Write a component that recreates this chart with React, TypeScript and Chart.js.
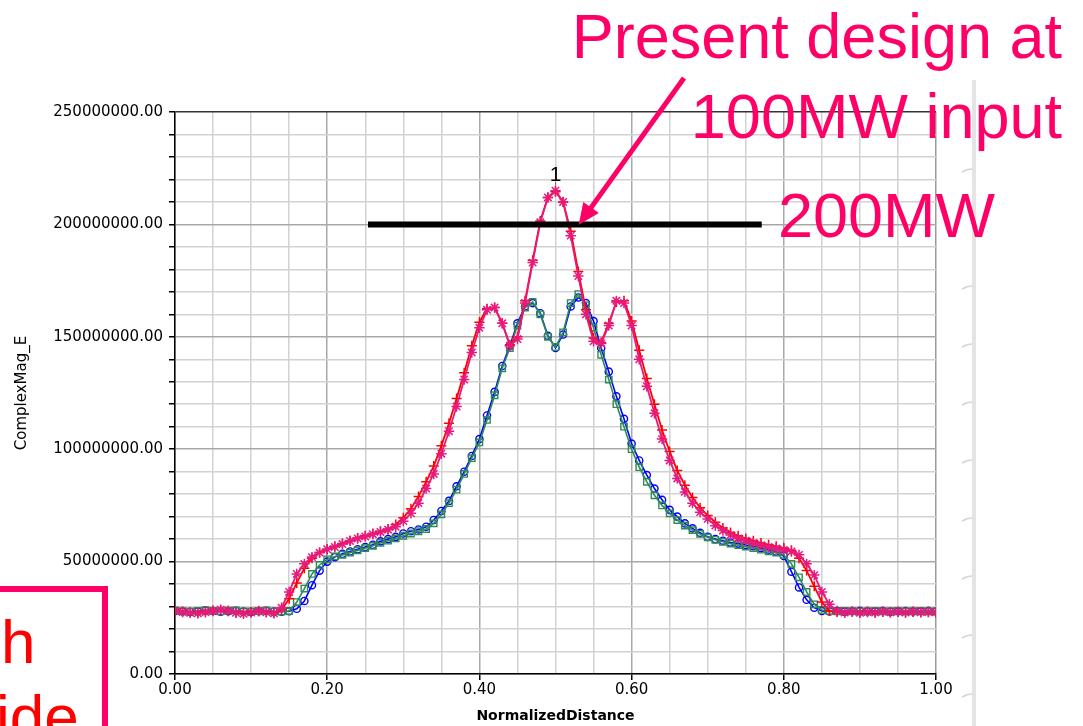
import React, { useEffect, useRef } from "react";
import { Chart, registerables } from "chart.js";

Chart.register(...registerables);

// Normalized distance samples
const xs = [
  0.0, 0.01, 0.02, 0.03, 0.04, 0.05, 0.06, 0.07, 0.08, 0.09,
  0.1, 0.11, 0.12, 0.13, 0.14, 0.15, 0.16, 0.17, 0.18, 0.19,
  0.2, 0.21, 0.22, 0.23, 0.24, 0.25, 0.26, 0.27, 0.28, 0.29,
  0.3, 0.31, 0.32, 0.33, 0.34, 0.35, 0.36, 0.37, 0.38, 0.39,
  0.4, 0.41, 0.42, 0.43, 0.44, 0.45, 0.46, 0.47, 0.48, 0.49,
  0.5, 0.51, 0.52, 0.53, 0.54, 0.55, 0.56, 0.57, 0.58, 0.59,
  0.6, 0.61, 0.62, 0.63, 0.64, 0.65, 0.66, 0.67, 0.68, 0.69,
  0.7, 0.71, 0.72, 0.73, 0.74, 0.75, 0.76, 0.77, 0.78, 0.79,
  0.8, 0.81, 0.82, 0.83, 0.84, 0.85, 0.86, 0.87, 0.88, 0.89,
  0.9, 0.91, 0.92, 0.93, 0.94, 0.95, 0.96, 0.97, 0.98, 0.99,
  1.0,
];

// ComplexMag_E, in millions
const magentaStar = [
  28.0, 27.6, 27.2, 27.0, 27.5, 28.0, 28.6, 28.2, 27.2, 26.8,
  27.3, 28.0, 27.4, 27.0, 29.5, 36.5, 44.5, 49.0, 52.0, 54.0,
  55.5, 56.5, 57.8, 59.2, 60.3, 61.2, 62.2, 63.2, 64.2, 65.5,
  68.0, 71.5, 76.0, 82.5, 89.0, 98.0, 108.0, 119.0, 131.0, 143.0,
  154.0, 162.0, 163.0, 156.0, 146.0, 149.0, 165.0, 183.0, 201.0, 212.0,
  215.0, 210.0, 195.0, 177.0, 160.0, 148.0, 147.0, 155.0, 166.0, 165.0,
  155.0, 140.0, 128.0, 116.0, 104.5, 95.0, 87.0, 81.0, 76.0, 72.0,
  69.0, 66.0, 63.8, 61.8, 60.3, 59.3, 58.3, 57.3, 56.5, 55.8,
  55.2, 54.5, 53.0, 49.0, 44.0, 36.5, 31.0, 28.0, 27.3, 27.8,
  27.2, 27.6, 27.3, 27.8, 27.4, 27.7, 27.3, 27.8, 27.5, 27.6,
  27.5,
];

const redPlus = [
  28.2, 27.8, 27.5, 27.3, 27.8, 28.3, 28.4, 27.9, 27.4, 27.1,
  27.6, 27.9, 27.6, 27.3, 28.5, 33.5, 40.5, 47.0, 51.5, 54.0,
  55.5, 56.8, 58.0, 59.3, 60.5, 61.5, 62.5, 63.5, 64.5, 66.5,
  69.5, 73.5, 79.0, 85.5, 92.5, 101.5, 111.5, 122.5, 134.0, 146.0,
  156.5, 162.5, 163.0, 156.0, 146.5, 150.0, 166.0, 184.0, 201.5, 212.0,
  214.5, 210.0, 197.0, 179.0, 162.0, 149.5, 147.5, 156.0, 165.5, 166.0,
  157.0, 144.0, 131.5, 120.0, 108.5, 99.0, 90.5, 84.0, 78.5, 74.0,
  70.5, 67.5, 65.0, 63.0, 61.5, 60.3, 59.3, 58.3, 57.5, 56.8,
  56.0, 55.0, 51.5, 46.0, 39.0, 32.0, 28.0, 27.6, 27.4, 27.7,
  27.5, 27.8, 27.4, 27.6, 27.5, 27.7, 27.4, 27.6, 27.5, 27.7,
  27.5,
];

const blueCircle = [
  28.0, 27.8, 27.6, 27.9, 28.2, 28.0, 27.7, 27.9, 28.1, 27.8,
  27.6, 27.9, 28.1, 27.8, 27.7, 27.9, 29.0, 32.5, 39.5, 46.0,
  50.0, 52.0, 53.5, 54.5, 55.5, 56.5, 57.5, 59.0, 60.0, 61.0,
  62.5, 63.5, 64.3, 65.5, 68.5, 72.5, 77.0, 83.5, 90.0, 97.0,
  104.5, 115.0, 125.5, 137.0, 146.0, 156.0, 163.5, 165.0, 160.5, 150.5,
  145.0, 151.0, 163.5, 167.5, 165.0, 157.0, 145.0, 134.5, 123.5, 113.5,
  102.5, 95.0, 88.5, 82.5, 77.5, 73.0, 70.0, 67.0, 64.8, 62.8,
  61.0, 60.0, 59.3, 58.5, 58.0, 57.4, 56.8, 56.0, 55.3, 54.5,
  52.5, 45.5, 38.5, 33.0, 29.5, 28.0, 27.8, 28.0, 27.7, 27.9,
  28.1, 27.8, 27.9, 28.0, 27.7, 27.9, 28.0, 27.8, 27.9, 28.0,
  27.8,
];

const greenSquare = [
  28.3, 28.0, 27.8, 28.1, 28.4, 28.1, 27.9, 28.2, 28.3, 27.9,
  27.8, 28.0, 28.3, 27.9, 27.8, 28.0, 32.0, 38.0, 44.5, 48.5,
  51.0, 52.3, 53.0, 54.0, 55.0, 56.0, 57.0, 58.3, 59.3, 60.3,
  61.5, 62.5, 63.5, 64.5, 67.0, 71.0, 76.0, 82.0, 89.0, 96.0,
  103.0, 113.0, 124.0, 136.0, 145.0, 155.0, 163.0, 165.5, 160.0, 150.0,
  145.5, 152.0, 165.0, 169.0, 164.0, 154.0, 142.0, 131.0, 120.0, 110.0,
  100.0, 92.0, 85.5, 79.5, 75.0, 71.5, 68.5, 66.0, 64.0, 62.3,
  60.8, 59.7, 58.8, 58.0, 57.3, 56.7, 56.0, 55.3, 54.6, 54.0,
  53.0, 49.0, 43.0, 36.5, 31.0, 28.5, 28.0, 27.9, 28.1, 28.0,
  27.8, 28.0, 28.1, 27.9, 28.0, 28.1, 27.9, 28.0, 28.1, 27.9,
  28.0,
];

// 200MW reference bar
const limitX = [0.2536, 0.771];
const limitY = [200, 200];

// axis ticks
const xLabelTicks = [0, 0.2, 0.4, 0.6, 0.8, 1.0];
const yLabelTicks = [0, 50, 100, 150, 200, 250];

const PINK = "#ff0066";

const toPoints = (vals: number[]) => xs.map((x, i) => ({ x, y: vals[i] * 1e6 }));

const peakLabelPlugin = {
  id: "peakLabel",
  afterDatasetsDraw(chart: any) {
    const meta = chart.getDatasetMeta(1);
    const data = chart.data.datasets[1].data as { x: number; y: number }[];
    let best = 0;
    data.forEach((p, i) => {
      if (p.y > data[best].y) best = i;
    });
    const el = meta.data[best];
    if (!el) return;
    const ctx = chart.ctx;
    ctx.save();
    ctx.fillStyle = "#000";
    ctx.font = '21px "Liberation Sans", Arial';
    ctx.textAlign = "center";
    ctx.textBaseline = "alphabetic";
    ctx.fillText("1", el.x, el.y - 10);
    ctx.strokeStyle = "#777";
    ctx.lineWidth = 1;
    ctx.beginPath();
    ctx.moveTo(el.x, el.y - 9);
    ctx.lineTo(el.x, el.y - 5);
    ctx.stroke();
    ctx.restore();
  },
};

export default function App() {
  const canvasRef = useRef<HTMLCanvasElement | null>(null);

  useEffect(() => {
    if (!canvasRef.current) return;
    Chart.defaults.font.family = '"DejaVu Sans", sans-serif';
    const isMajorX = (v: number) => xLabelTicks.some((t) => Math.abs(t - v) < 1e-6);
    const isMajorY = (v: number) => yLabelTicks.some((t) => Math.abs(t * 1e6 - v) < 1);

    const chart = new Chart(canvasRef.current, {
      type: "scatter",
      data: {
        datasets: [
          {
            label: "200MW",
            data: limitX.map((x, i) => ({ x, y: limitY[i] * 1e6 })),
            showLine: true,
            borderColor: "#000",
            borderWidth: 6,
            pointRadius: 0,
            borderCapStyle: "butt",
          },
          {
            label: "magenta",
            data: toPoints(magentaStar),
            showLine: true,
            borderColor: "#e8197d",
            pointBorderColor: "#e8197d",
            pointBackgroundColor: "rgba(0,0,0,0)",
            pointStyle: "star",
            pointRadius: 5.2,
            pointBorderWidth: 1.5,
            borderWidth: 1.8,
          },
          {
            label: "red",
            data: toPoints(redPlus),
            showLine: true,
            borderColor: "#ff0000",
            pointBorderColor: "#ff0000",
            pointBackgroundColor: "rgba(0,0,0,0)",
            pointStyle: "cross",
            pointRadius: 5,
            pointBorderWidth: 1.5,
            borderWidth: 1.8,
          },
          {
            label: "green",
            data: toPoints(greenSquare),
            showLine: true,
            borderColor: "#2e8b57",
            pointBorderColor: "#2e8b57",
            pointBackgroundColor: "rgba(0,0,0,0)",
            pointStyle: "rect",
            pointRadius: 4.5,
            pointBorderWidth: 1.4,
            borderWidth: 1.6,
          },
          {
            label: "blue",
            data: toPoints(blueCircle),
            showLine: true,
            borderColor: "#0000ff",
            pointBorderColor: "#0000ff",
            pointBackgroundColor: "rgba(0,0,0,0)",
            pointStyle: "circle",
            pointRadius: 3.6,
            pointBorderWidth: 1.4,
            borderWidth: 1.6,
          },
        ],
      },
      options: {
        responsive: false,
        animation: false,
        devicePixelRatio: 1,
        layout: { padding: { top: 112, right: 147, left: 0, bottom: 0 } },
        plugins: {
          legend: { display: false },
          tooltip: { enabled: false },
        },
        scales: {
          x: {
            type: "linear",
            min: 0,
            max: 1,
            afterFit: (s: any) => {
              s.height = 52;
            },
            ticks: {
              stepSize: 0.05,
              autoSkip: false,
              maxRotation: 0,
              minRotation: 0,
              padding: 1,
              color: "#000",
              font: { size: 15 },
              callback: (v: any) => (isMajorX(Number(v)) ? Number(v).toFixed(2) : ""),
            },
            grid: {
              color: (c: any) => {
                const v = c.tick ? c.tick.value : 0;
                if (Math.abs(v - 1) < 1e-6) return "#9a9a9a";
                return isMajorX(v) ? "#a8a8a8" : "#d2d2d2";
              },
              lineWidth: 1.5,
              tickLength: 6,
              tickColor: (c: any) => (c.tick && isMajorX(c.tick.value) ? "#000" : "rgba(0,0,0,0)"),
            },
            border: { color: "#000", width: 1.5 },
            title: {
              display: true,
              text: "NormalizedDistance",
              color: "#000",
              font: { size: 14, weight: "bold" },
              padding: { top: 0, bottom: 1 },
            },
          },
          y: {
            type: "linear",
            min: 0,
            max: 250e6,
            afterFit: (s: any) => {
              s.width = 175;
            },
            ticks: {
              stepSize: 10e6,
              autoSkip: false,
              padding: 6,
              color: "#000",
              font: { size: 15 },
              callback: (v: any) => (isMajorY(Number(v)) ? Number(v).toFixed(2) : ""),
            },
            grid: {
              color: (c: any) => {
                const v = c.tick ? c.tick.value : 0;
                if (Math.abs(v - 250e6) < 1) return "#333";
                return isMajorY(v) ? "#a8a8a8" : "#d2d2d2";
              },
              lineWidth: 1.5,
              tickLength: 6,
              tickColor: "#000",
            },
            border: { color: "#000", width: 1.5 },
            title: {
              display: true,
              text: "ComplexMag_E",
              color: "#000",
              font: { size: 15 },
              padding: { top: 13, bottom: 0 },
            },
          },
        },
      } as any,
      plugins: [peakLabelPlugin],
    });
    return () => chart.destroy();
  }, []);

  const bigText: React.CSSProperties = {
    position: "absolute",
    fontFamily: '"Liberation Sans", Arial, sans-serif',
    fontSize: 63,
    lineHeight: "63px",
    color: PINK,
    whiteSpace: "nowrap",
  };
  const redText: React.CSSProperties = {
    position: "absolute",
    fontFamily: '"Liberation Sans", Arial, sans-serif',
    fontSize: 62,
    lineHeight: "62px",
    color: "#ff0000",
    whiteSpace: "nowrap",
  };

  const sideTicks = [170, 287, 345, 403, 461, 519, 577, 636, 695];

  return (
    <div
      style={{
        position: "absolute",
        left: 0,
        top: 0,
        width: 1083,
        height: 726,
        overflow: "hidden",
        background: "#fff",
      }}
    >
      <canvas
        ref={canvasRef}
        width={1083}
        height={726}
        style={{ position: "absolute", left: 0, top: 0, width: 1083, height: 726 }}
      />
      <svg
        width={1083}
        height={726}
        style={{ position: "absolute", left: 0, top: 0, pointerEvents: "none" }}
      >
        <line x1={974} y1={80} x2={974} y2={726} stroke="#e4e4e4" strokeWidth={4} />
        {sideTicks.map((y) => (
          <path
            key={y}
            d={`M 962 ${y + 2} Q 967 ${y - 1} 972 ${y - 1}`}
            stroke="#d4d4d4"
            strokeWidth={1.5}
            fill="none"
          />
        ))}
        <rect x={-20} y={589} width={125} height={160} fill="none" stroke={PINK} strokeWidth={6} />
        <line x1={684} y1={78} x2={590.5} y2={208.4} stroke={PINK} strokeWidth={5} />
        <polygon points="580,223 597,213 584,203.7" fill={PINK} stroke={PINK} strokeWidth={2} />
      </svg>
      <div style={{ ...bigText, right: 21, top: 4.7 }}>Present design at</div>
      <div style={{ ...bigText, right: 21, top: 84.7 }}>100MW input</div>
      <div style={{ ...bigText, left: 778, top: 183.7 }}>200MW</div>
      <div style={{ ...redText, left: 1, top: 610.5 }}>h</div>
      <div style={{ ...redText, left: -4, top: 685.5 }}>ide</div>
    </div>
  );
}
